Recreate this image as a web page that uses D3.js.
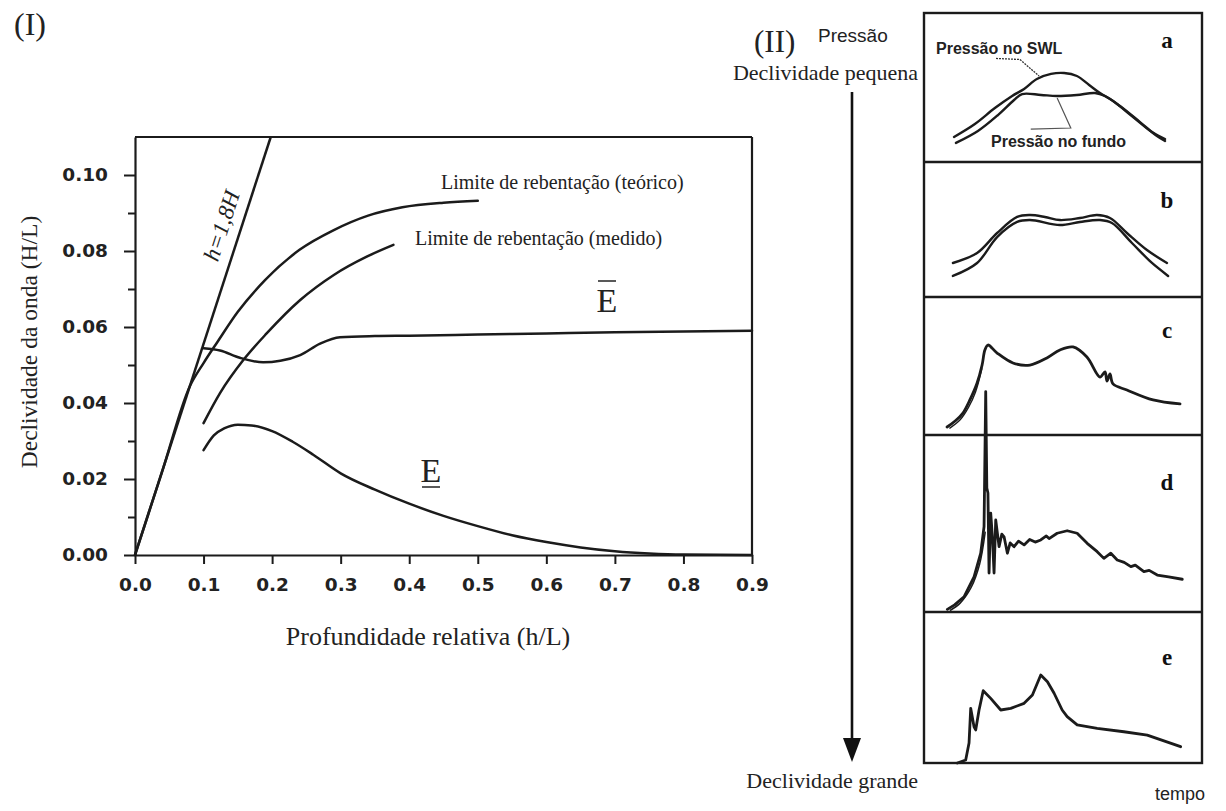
<!DOCTYPE html>
<html><head><meta charset="utf-8">
<script src="https://cdn.jsdelivr.net/npm/d3@7/dist/d3.min.js"></script>
<style>body{margin:0;background:#fff}svg{display:block}</style>
</head><body>
<svg id="c" width="1226" height="811"></svg>
<script>
// ---------- DATA (panel I) ----------
const xTickValues = [0, 0.1, 0.2, 0.3, 0.4, 0.5, 0.6, 0.7, 0.8, 0.9];
const yTickValues = [0, 0.02, 0.04, 0.06, 0.08, 0.10];
const yMinorValues = [0.01, 0.03, 0.05, 0.07, 0.09];
const lineH18 = [[0, 0], [0.198, 0.11]];
const limiteTeorico = [[0,0],[0.04,0.0222],[0.08,0.0444],[0.10,0.0505],[0.12,0.0560],[0.15,0.0640],[0.19,0.0724],[0.24,0.0803],[0.29,0.0855],[0.34,0.0893],[0.39,0.0915],[0.45,0.0927],[0.50,0.0932]];
const limiteMedido = [[0.100,0.0347],[0.124,0.0426],[0.158,0.0513],[0.192,0.0583],[0.241,0.0671],[0.290,0.0737],[0.338,0.0785],[0.377,0.0816]];
const serieEbar = [[0.100,0.0544],[0.124,0.0538],[0.153,0.0519],[0.187,0.0507],[0.212,0.0511],[0.241,0.0526],[0.270,0.0556],[0.299,0.0573],[0.35,0.0576],[0.40,0.0577],[0.50,0.0580],[0.60,0.0583],[0.70,0.0586],[0.80,0.0588],[0.90,0.0590]];
const serieE = [[0.100,0.0276],[0.115,0.0315],[0.130,0.0333],[0.150,0.0343],[0.170,0.0341],[0.200,0.0326],[0.230,0.0298],[0.260,0.0264],[0.300,0.0215],[0.350,0.0172],[0.400,0.0135],[0.450,0.0103],[0.500,0.0076],[0.550,0.0052],[0.600,0.0034],[0.650,0.0020],[0.700,0.0010],[0.750,0.0004],[0.800,0.0001],[0.900,0.0]];

// ---------- DATA (panel II) : [tempo, pressão] ----------
const panelLabels = ['a', 'b', 'c', 'd', 'e'];
const aSWL = [[10.8,16.8],[18.3,25.5],[25.5,36.2],[31.7,44.3],[36.0,49.0],[40.6,55.7],[45.7,59.1],[50.4,59.7],[55.0,57.7],[59.4,51.7],[63.3,46.3],[68.0,40.9],[75.2,30.2],[82.0,20.1],[86.7,15.4]];
const aFundo = [[11.5,12.8],[19.4,20.8],[26.6,31.5],[32.4,41.6],[35.3,45.6],[42.1,45.0],[47.8,44.3],[55.0,45.0],[61.5,46.3],[65.1,44.3],[70.5,37.6],[77.7,26.8],[83.8,17.4],[86.7,14.1]];
const b1 = [[10.4,25.2],[19.1,32.6],[26.3,47.4],[33.5,59.3],[38.1,60.7],[43.5,59.3],[48.9,57.0],[56.1,58.5],[62.2,60.7],[66.9,58.5],[73.0,47.4],[80.2,34.8],[87.4,25.2]];
const b2 = [[10.4,15.6],[19.1,25.2],[26.3,44.4],[33.5,55.6],[38.1,57.0],[48.9,53.3],[56.1,55.6],[63.3,57.0],[67.6,54.8],[74.8,40.0],[82.0,25.2],[87.8,15.6]];
const c1 = [[8.3,5.8],[11.2,10.1],[14.0,15.9],[16.5,25.4],[19.1,37.7],[20.9,50.7],[21.9,61.6],[23.0,65.2],[26.3,59.4],[32.0,52.2],[38.1,50.7],[44.2,55.8],[48.9,61.6],[53.6,63.8],[58.6,56.5],[63.3,42.0],[65.1,45.7],[65.8,39.1],[66.9,44.2],[68.0,37.0],[73.0,32.6],[82.4,25.4],[92.1,22.5]];
const c2 = [[9.3,5],[13,11],[16,20],[18.5,31],[20.8,48]];
const d1 = [[8.4,1.5],[11,4],[14.4,8.6],[18.0,19.9],[20.4,33.2],[21.6,48.2],[22.2,124.5],[22.6,70],[23.0,67.2],[23.4,22.0],[24.0,55.9],[24.6,42.5],[25.2,22.0],[25.8,52.0],[27.0,36.9],[28.0,44],[28.8,42.5],[30.0,33.2],[31,39],[32.4,36.9],[34,40],[36.0,37.9],[38,41],[40,39.5],[42.0,40.7],[44,43],[45,41.5],[47.9,44.5],[51.5,45.9],[55.1,44.5],[58.7,38.8],[62.3,34.1],[64.7,30.3],[67.2,33.2],[69.5,29.4],[72,28],[74.4,25.6],[76,26.5],[79.1,22.8],[81,23.5],[83.9,20.9],[88,19.8],[92.9,18.5]];
const d2 = [[9.5,1],[13,5],[17,14],[20,27],[22,45]];
const e1 = [[12.0,0],[15.0,2.0],[16.2,13.2],[16.8,36.2],[18.0,24.0],[18.6,21.9],[19.8,35.1],[21.3,47.9],[24.0,42.8],[27.6,35.1],[31.2,36.2],[36.0,39.5],[39.0,45.0],[42.0,58.3],[44.4,53.8],[46.8,46.2],[49.7,35.1],[51.5,30.7],[55.1,25.2],[62.3,23.0],[71.9,20.7],[80.3,18.5],[92.3,10.8]];
const leaderSWL = [[25.9,69.5],[34.5,68.8],[41.4,57.7]];
const leaderFundo = [[38.4,22.1],[52.8,22.8],[47.9,43.0]];

// ---------- DRAWING ----------
const svg = d3.select('#c');
const ink = '#1b1b1b';
const serif = '"Liberation Serif","Times New Roman",serif';
const sans = '"Liberation Sans",Arial,sans-serif';

const X = d3.scaleLinear().domain([0, 0.9]).range([135, 752]);
const Y = d3.scaleLinear().domain([0, 0.11]).range([555, 137]);

const g1 = svg.append('g');
g1.append('line').attr('x1', X(0)).attr('x2', X(0.9)).attr('y1', Y(0.11)).attr('y2', Y(0.11)).attr('stroke', ink).attr('stroke-width', 2.2);
g1.append('line').attr('x1', X(0.9)).attr('x2', X(0.9)).attr('y1', Y(0.11)).attr('y2', Y(0)).attr('stroke', ink).attr('stroke-width', 2.2);

g1.append('g').attr('transform', `translate(${X(0)},0)`)
  .call(d3.axisLeft(Y).tickValues(yTickValues).tickSize(11).tickSizeOuter(0).tickPadding(16).tickFormat(d3.format('.2f')));
g1.append('g').attr('transform', `translate(${X(0)},0)`)
  .call(d3.axisLeft(Y).tickValues(yMinorValues).tickSize(7).tickSizeOuter(0).tickFormat(''))
  .select('.domain').remove();
g1.append('g').attr('transform', `translate(0,${Y(0)})`)
  .call(d3.axisBottom(X).tickValues(xTickValues).tickSize(9).tickSizeOuter(0).tickPadding(14).tickFormat(d3.format('.1f')));
g1.selectAll('.domain').attr('stroke', ink).attr('stroke-width', 2.2);
g1.selectAll('.tick line').attr('stroke', ink).attr('stroke-width', 2);
g1.selectAll('.tick text').attr('fill', '#222').style('font-family', '"DejaVu Sans",sans-serif').style('font-weight', 'bold').style('font-size', '18.5px');

const line1 = d3.line().x(d => X(d[0])).y(d => Y(d[1])).curve(d3.curveMonotoneX);
const lineStraight = d3.line().x(d => X(d[0])).y(d => Y(d[1]));
g1.append('path').attr('d', lineStraight(lineH18)).attr('fill', 'none').attr('stroke', ink).attr('stroke-width', 2.5);
[limiteTeorico, limiteMedido, serieEbar, serieE].forEach(s => {
  g1.append('path').attr('d', line1(s)).attr('fill', 'none').attr('stroke', ink).attr('stroke-width', 2.5).attr('stroke-linecap', 'round');
});

g1.append('text').attr('x', 441).attr('y', 189).text('Limite de rebentação (teórico)')
  .style('font-family', serif).style('font-size', '20px').attr('fill', '#222');
g1.append('text').attr('x', 415).attr('y', 245).text('Limite de rebentação (medido)')
  .style('font-family', serif).style('font-size', '20px').attr('fill', '#222');
g1.append('text').attr('transform', 'translate(229,228) rotate(-72)').attr('text-anchor', 'middle')
  .text('h=1,8H').style('font-family', serif).style('font-style', 'italic').style('font-size', '23px').attr('fill', '#222');
g1.append('text').attr('x', 607).attr('y', 312).attr('text-anchor', 'middle').text('E')
  .style('font-family', serif).style('font-size', '34px').attr('fill', '#222');
g1.append('line').attr('x1', 598).attr('x2', 616).attr('y1', 281).attr('y2', 281).attr('stroke', '#222').attr('stroke-width', 1.5);
g1.append('text').attr('x', 431).attr('y', 482).attr('text-anchor', 'middle').text('E')
  .style('font-family', serif).style('font-size', '34px').attr('fill', '#222');
g1.append('line').attr('x1', 422).attr('x2', 440).attr('y1', 487).attr('y2', 487).attr('stroke', '#222').attr('stroke-width', 1.5);

g1.append('text').attr('transform', 'translate(37,342) rotate(-90)').attr('text-anchor', 'middle')
  .text('Declividade da onda (H/L)').style('font-family', serif).style('font-size', '23.5px').attr('fill', '#222');
g1.append('text').attr('x', 428).attr('y', 645).attr('text-anchor', 'middle')
  .text('Profundidade relativa (h/L)').style('font-family', serif).style('font-size', '26px').attr('fill', '#222');
svg.append('text').attr('x', 14).attr('y', 35).text('(I)').style('font-family', serif).style('font-size', '32px').attr('fill', '#222');

// ---------- PANEL II ----------
const T = d3.scaleLinear().domain([0, 100]).range([924, 1202]);
const bounds = [13, 162, 297, 435, 612, 763];
const P = bounds.slice(0, 5).map((top, i) => d3.scaleLinear().domain([0, 100]).range([bounds[i + 1], top]));
const g2 = svg.append('g');
g2.append('rect').attr('x', T(0)).attr('y', bounds[0]).attr('width', T(100) - T(0)).attr('height', bounds[5] - bounds[0])
  .attr('fill', 'none').attr('stroke', ink).attr('stroke-width', 2.4);
bounds.slice(1, 5).forEach(b => g2.append('line').attr('x1', T(0)).attr('x2', T(100)).attr('y1', b).attr('y2', b).attr('stroke', ink).attr('stroke-width', 2.4));

const mk = (i, curve) => d3.line().x(d => T(d[0])).y(d => P[i](d[1])).curve(curve);
const draw = (i, data, curve, w) => g2.append('path').attr('d', mk(i, curve)(data)).attr('fill', 'none')
  .attr('stroke', ink).attr('stroke-width', w).attr('stroke-linejoin', 'round').attr('stroke-linecap', 'round');
draw(0, aSWL, d3.curveCatmullRom, 2.4);
draw(0, aFundo, d3.curveCatmullRom, 2.4);
draw(1, b1, d3.curveCatmullRom, 2.4);
draw(1, b2, d3.curveCatmullRom, 2.4);
draw(2, c1, d3.curveCatmullRom, 2.8);
draw(2, c2, d3.curveCatmullRom, 1.4);
draw(3, d1, d3.curveLinear, 2.8);
draw(3, d2, d3.curveCatmullRom, 1.5);
draw(4, e1, d3.curveLinear, 2.8);
g2.append('path').attr('d', mk(0, d3.curveLinear)(leaderSWL)).attr('fill', 'none').attr('stroke', '#333').attr('stroke-width', 1.3).attr('stroke-dasharray', '2,1');
g2.append('path').attr('d', mk(0, d3.curveLinear)(leaderFundo)).attr('fill', 'none').attr('stroke', '#555').attr('stroke-width', 1.2);
g2.append('text').attr('x', 936).attr('y', 54).text('Pressão no SWL').style('font-family', sans).style('font-weight', 'bold').style('font-size', '16px').attr('fill', '#222');
g2.append('text').attr('x', 991).attr('y', 147).text('Pressão no fundo').style('font-family', sans).style('font-weight', 'bold').style('font-size', '16px').attr('fill', '#222');

const labelY = [48, 208, 338, 490, 665];
panelLabels.forEach((l, i) => g2.append('text').attr('x', 1167).attr('y', labelY[i]).attr('text-anchor', 'middle').text(l)
  .style('font-family', serif).style('font-weight', 'bold').style('font-size', '23px').attr('fill', '#111'));

svg.append('text').attr('x', 754).attr('y', 52).text('(II)').style('font-family', serif).style('font-size', '31px').attr('fill', '#222');
svg.append('text').attr('x', 818).attr('y', 42).text('Pressão').style('font-family', sans).style('font-size', '19px').attr('fill', '#222');
svg.append('text').attr('x', 918).attr('y', 80).attr('text-anchor', 'end').text('Declividade pequena').style('font-family', serif).style('font-size', '22px').attr('fill', '#222');
svg.append('text').attr('x', 918).attr('y', 788).attr('text-anchor', 'end').text('Declividade grande').style('font-family', serif).style('font-size', '22px').attr('fill', '#222');
svg.append('text').attr('x', 1205).attr('y', 800).attr('text-anchor', 'end').text('tempo').style('font-family', sans).style('font-size', '18px').attr('fill', '#222');
svg.append('line').attr('x1', 852).attr('x2', 852).attr('y1', 92).attr('y2', 742).attr('stroke', '#111').attr('stroke-width', 2.6);
svg.append('path').attr('d', d3.line()([[843, 738], [861, 738], [852, 762]]) + 'Z').attr('fill', '#111');
</script>
</body></html>
